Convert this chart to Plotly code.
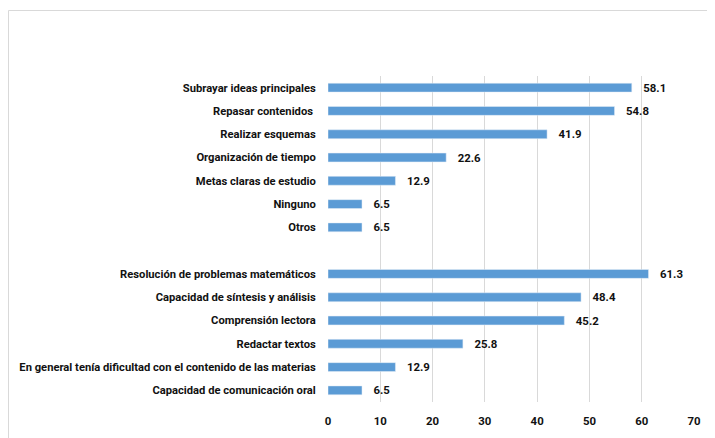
import plotly.graph_objects as go

categories = [
    "Subrayar ideas principales",
    "Repasar contenidos\u00a0",
    "Realizar esquemas",
    "Organización de tiempo",
    "Metas claras de estudio",
    "Ninguno",
    "Otros",
    " ",
    "Resolución de problemas matemáticos",
    "Capacidad de síntesis y análisis",
    "Comprensión lectora",
    "Redactar textos",
    "En general tenía dificultad con el contenido de las materias",
    "Capacidad de comunicación oral",
]
values = [58.1, 54.8, 41.9, 22.6, 12.9, 6.5, 6.5, None, 61.3, 48.4, 45.2, 25.8, 12.9, 6.5]
x_ticks = [0, 10, 20, 30, 40, 50, 60, 70]

FONT = "Roboto"
FS = 11.4
FS_CAT = 11.2
COL = "#111111"

labels = [("   %.1f" % v) if v is not None else "" for v in values]

fig = go.Figure(
    go.Bar(
        y=categories,
        x=values,
        orientation="h",
        marker=dict(color="#5B9BD5"),
        width=0.38,
        text=labels,
        textposition="outside",
        constraintext="none",
        cliponaxis=False,
        textfont=dict(family=FONT, size=FS, color=COL, weight="bold"),
    )
)

# The page body has an 8px margin, so the figure is sized/offset to compensate.
OFF = 8
W, H = 715 - OFF, 438 - OFF
ml, mr, mt, mb = 328 - OFF, 21, 76 - OFF, 36
pw = W - ml - mr
ph = H - mt - mb

def px_x(px):
    return (px - OFF - ml) / pw

def px_y(py):
    return (H - mb - (py - OFF)) / ph

fig.add_shape(
    type="rect", xref="paper", yref="paper",
    x0=px_x(8.5), x1=px_x(760), y0=px_y(480), y1=px_y(10.5),
    line=dict(color="#d9d9d9", width=1), fillcolor="rgba(0,0,0,0)", layer="below",
)

fig.update_layout(
    width=W, height=H,
    margin=dict(l=ml, r=mr, t=mt, b=mb, autoexpand=False),
    paper_bgcolor="white", plot_bgcolor="white",
    showlegend=False,
    font=dict(family=FONT, size=FS, color=COL, weight="bold"),
    xaxis=dict(
        range=[0, 70], tickvals=x_ticks, showgrid=True, gridcolor="#d9d9d9", gridwidth=1.3,
        zeroline=False, showline=False, ticks="outside", ticklen=8, tickcolor="rgba(0,0,0,0)",
        tickfont=dict(family=FONT, size=FS, color=COL, weight="bold"), fixedrange=True,
        automargin=False,
    ),
    yaxis=dict(
        categoryorder="array", categoryarray=categories, autorange="reversed",
        showgrid=False, zeroline=False, showline=False, ticks="outside", ticklen=9,
        tickcolor="rgba(0,0,0,0)", automargin=False,
        tickfont=dict(family=FONT, size=FS_CAT, color=COL, weight="bold"),
    ),
)

fig.write_html("out.html")
